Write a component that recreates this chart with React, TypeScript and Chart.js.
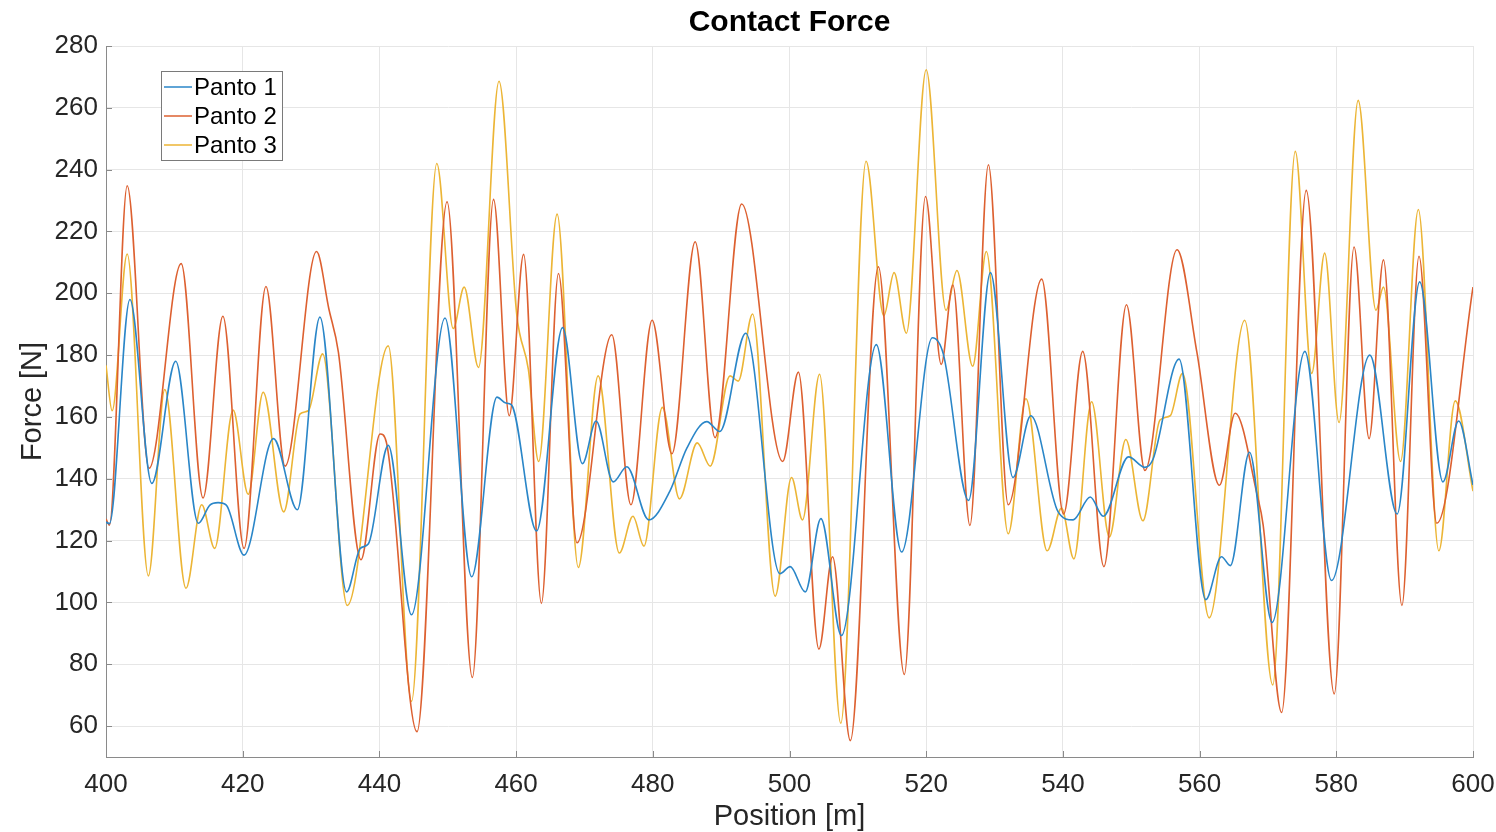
import React, { useEffect, useRef } from "react";
import { Chart, registerables } from "chart.js";

Chart.register(...registerables);

const X_TICKS = [400, 420, 440, 460, 480, 500, 520, 540, 560, 580, 600];
const Y_TICKS = [60, 80, 100, 120, 140, 160, 180, 200, 220, 240, 260, 280];

const CHART_TITLE = "Contact Force";
const SERIES_NAMES = ["Panto 1", "Panto 2", "Panto 3"];
const SERIES_COLORS = ["#2a86c8", "#dd6030", "#ecb535"];

// Panto 1 (position [m], force [N])
const P1_X = [400, 400.5, 403.5, 406.7, 410.2, 413.5, 415.2, 416.4, 417.6, 420.2, 424.5, 428.0, 431.3, 435.2, 437.2, 438.4, 441.3, 444.7, 449.6, 453.5, 457.2, 458.5, 459.3, 463.0, 466.8, 469.7, 471.7, 474.2, 476.2, 479.4, 482.5, 485.0, 487.9, 489.8, 493.6, 498.6, 500.1, 502.3, 504.6, 507.6, 512.7, 516.4, 520.9, 522.5, 526.2, 529.4, 532.7, 535.3, 539.3, 541.5, 544.0, 545.9, 549.6, 552.0, 553.2, 557.0, 560.9, 563.2, 564.5, 567.3, 570.6, 575.4, 579.3, 584.9, 588.9, 592.2, 595.6, 597.9, 600];
const P1_Y = [126, 125.5, 198, 138.5, 178, 125.6, 131.5, 132.3, 131.5, 115.3, 153, 130, 192.3, 103.4, 117.5, 119, 150.8, 96, 192, 108.3, 166.4, 164.5, 164, 123.1, 188.9, 144.9, 158.7, 139, 143.9, 126.7, 136, 150, 158.5, 155.3, 187.1, 109.3, 111.6, 103.4, 127.1, 89.3, 183.4, 116.3, 185.6, 180.4, 133, 206.7, 140.4, 160.4, 129.3, 126.7, 134.1, 127.9, 147.1, 143.7, 146.4, 178.7, 100.9, 114.8, 111.9, 148.6, 93.5, 181.2, 107.1, 180, 128.6, 203.7, 139, 158.7, 138];

// Panto 2
const P2_X = [400, 400.5, 403.1, 406.3, 411.0, 414.2, 417.1, 420.2, 423.4, 426.2, 430.8, 432.6, 434.0, 437.3, 440.1, 441.0, 445.5, 449.9, 453.6, 456.7, 459.0, 461.1, 463.7, 466.2, 468.9, 474.0, 476.8, 479.9, 482.8, 486.2, 489.1, 493.0, 499.0, 501.3, 504.3, 506.3, 508.9, 513.0, 516.8, 519.9, 522.2, 523.9, 526.4, 529.1, 532.0, 536.9, 540.1, 542.9, 546.0, 549.3, 552.0, 556.7, 559.6, 562.9, 565.2, 568.4, 569.3, 572.0, 575.6, 579.7, 582.6, 584.8, 586.9, 589.6, 592.1, 594.7, 600];
const P2_Y = [127, 125, 234.8, 143.4, 209.6, 133.8, 192.6, 117.5, 202.2, 144.1, 213.5, 195, 181, 113.8, 154.5, 152, 58.2, 229.6, 75.7, 230.4, 160.4, 212.6, 99.7, 206.4, 119.3, 186.6, 131.6, 191.3, 148.1, 216.7, 153.3, 228.9, 145.6, 174.5, 84.9, 114.8, 55.3, 208.6, 76.7, 231.3, 177, 202.7, 124.9, 241.6, 131.6, 204.6, 128.6, 181.2, 111.6, 196.3, 142.7, 214.1, 181, 137.9, 161.2, 135, 125, 64.4, 233.3, 70.4, 215, 153, 210.8, 99, 212, 125.6, 202];

// Panto 3
const P3_X = [400, 400.9, 403.1, 406.2, 408.6, 411.7, 414.0, 415.9, 418.6, 420.8, 423.0, 426.0, 428.4, 429.6, 431.7, 435.3, 441.3, 444.7, 448.4, 450.8, 452.4, 454.5, 457.5, 460.1, 461.8, 463.3, 466.0, 469.1, 472.0, 475.1, 477.1, 478.7, 481.4, 483.9, 486.5, 488.4, 491.3, 492.5, 494.6, 497.9, 500.3, 501.9, 504.4, 507.5, 511.2, 513.8, 515.3, 517.1, 520.0, 522.9, 524.5, 526.8, 528.8, 532.0, 534.6, 537.7, 539.8, 541.6, 544.2, 546.8, 549.2, 551.7, 554.2, 555.7, 557.5, 561.4, 566.6, 570.7, 574.0, 576.4, 578.3, 580.4, 583.2, 585.8, 586.9, 589.4, 592.0, 595.0, 597.4, 600];
const P3_Y = [176.7, 162, 212.7, 108.6, 168.9, 104.6, 131.6, 117.5, 162.2, 135, 168, 129.3, 161, 162, 180.4, 99, 183, 68, 242, 188.6, 202, 176, 268.6, 193, 175.3, 145.6, 225.6, 111.3, 173.3, 116, 127.9, 118.2, 163.1, 133.5, 151.6, 144.1, 173.3, 171.6, 193.3, 102, 140.4, 126.7, 173.8, 60.9, 242.7, 192.7, 206.7, 187.1, 272.3, 194.5, 207.4, 176.4, 213.5, 122.2, 165.9, 116.7, 130.5, 114.1, 164.9, 121.2, 152.7, 126.4, 159, 160.4, 174.1, 95, 191.3, 73.3, 245.9, 174.1, 213, 158.2, 262.4, 194.5, 202, 145.6, 227.1, 116.7, 165.2, 136];

const FONT = "'Liberation Sans', Arial, Helvetica, sans-serif";
const AXIS_COLOR = "#8a8a8a";
const TEXT_COLOR = "#262626";
const GRID_COLOR = "#e6e6e6";

const toPoints = (xs: number[], ys: number[]) => xs.map((x, i) => ({ x, y: ys[i] }));

const inwardTicks = {
  id: "inwardTicks",
  afterDraw(chart: any) {
    const { ctx, chartArea, scales } = chart;
    ctx.save();
    ctx.strokeStyle = AXIS_COLOR;
    ctx.lineWidth = 1;
    ctx.beginPath();
    Y_TICKS.forEach((v) => {
      const y = Math.round(scales.y.getPixelForValue(v)) + 0.5;
      ctx.moveTo(chartArea.left, y);
      ctx.lineTo(chartArea.left + 6, y);
    });
    X_TICKS.forEach((v) => {
      const x = Math.round(scales.x.getPixelForValue(v)) + 0.5;
      ctx.moveTo(x, chartArea.bottom);
      ctx.lineTo(x, chartArea.bottom - 6);
    });
    ctx.stroke();
    ctx.restore();
  },
};

const plotTitle = {
  id: "plotTitle",
  afterDraw(chart: any) {
    const { ctx, chartArea } = chart;
    ctx.save();
    ctx.font = `bold 30px ${FONT}`;
    ctx.fillStyle = "#000000";
    ctx.textAlign = "center";
    ctx.textBaseline = "middle";
    ctx.fillText(CHART_TITLE, (chartArea.left + chartArea.right) / 2, 23);
    ctx.restore();
  },
};

const boxLegend = {
  id: "boxLegend",
  afterDraw(chart: any) {
    const { ctx, chartArea } = chart;
    const left = chartArea.left + 55;
    const top = chartArea.top + 25;
    const w = 121;
    const h = 89;
    ctx.save();
    ctx.fillStyle = "#ffffff";
    ctx.fillRect(left, top, w, h);
    ctx.strokeStyle = "#7a7a7a";
    ctx.lineWidth = 1;
    ctx.strokeRect(left + 0.5, top + 0.5, w, h);
    ctx.font = `24px ${FONT}`;
    ctx.textBaseline = "middle";
    ctx.textAlign = "left";
    chart.data.datasets.forEach((ds: any, i: number) => {
      const y = top + 16 + i * 29;
      ctx.strokeStyle = ds.borderColor;
      ctx.lineWidth = 1.5;
      ctx.beginPath();
      ctx.moveTo(left + 3, y);
      ctx.lineTo(left + 31, y);
      ctx.stroke();
      ctx.fillStyle = "#000000";
      ctx.fillText(ds.label, left + 33, y + 1);
    });
    ctx.restore();
  },
};

export default function App() {
  const canvasRef = useRef<HTMLCanvasElement | null>(null);

  useEffect(() => {
    if (!canvasRef.current) return;
    const chart = new Chart(canvasRef.current, {
      type: "line",
      data: {
        datasets: [
          { label: SERIES_NAMES[0], data: toPoints(P1_X, P1_Y), borderColor: SERIES_COLORS[0] },
          { label: SERIES_NAMES[1], data: toPoints(P2_X, P2_Y), borderColor: SERIES_COLORS[1] },
          { label: SERIES_NAMES[2], data: toPoints(P3_X, P3_Y), borderColor: SERIES_COLORS[2] },
        ].map((d) => ({
          ...d,
          borderWidth: 1.6,
          pointRadius: 0,
          fill: false,
          cubicInterpolationMode: "monotone" as const,
        })),
      },
      options: {
        animation: false,
        responsive: false,
        devicePixelRatio: 1,
        layout: { autoPadding: false, padding: { left: 0, right: 23, top: 46, bottom: 0 } },
        plugins: {
          legend: { display: false },
          tooltip: { enabled: false },
          title: { display: false },
        },
        scales: {
          x: {
            type: "linear",
            min: 400,
            max: 600,
            afterBuildTicks: (scale: any) => {
              scale.ticks = X_TICKS.map((v) => ({ value: v }));
            },
            afterFit: (scale: any) => {
              scale.height = 75;
              scale.paddingLeft = 0;
              scale.paddingRight = 0;
            },
            ticks: {
              color: TEXT_COLOR,
              font: { family: FONT, size: 26 },
              padding: 12,
              maxRotation: 0,
              autoSkip: false,
            },
            grid: { color: GRID_COLOR, drawTicks: false, lineWidth: 1 },
            border: { display: true, color: AXIS_COLOR, width: 1 },
            title: {
              display: true,
              text: "Position [m]",
              color: TEXT_COLOR,
              font: { family: FONT, size: 29, lineHeight: 1 },
              padding: { top: 0, bottom: 1 },
            },
          },
          y: {
            type: "linear",
            min: 50,
            max: 280,
            afterBuildTicks: (scale: any) => {
              scale.ticks = Y_TICKS.map((v) => ({ value: v }));
            },
            afterFit: (scale: any) => {
              scale.width = 106;
              scale.paddingTop = 0;
              scale.paddingBottom = 0;
            },
            ticks: {
              color: TEXT_COLOR,
              font: { family: FONT, size: 26 },
              padding: 8,
              autoSkip: false,
            },
            grid: { color: GRID_COLOR, drawTicks: false, lineWidth: 1 },
            border: { display: true, color: AXIS_COLOR, width: 1 },
            title: {
              display: true,
              text: "Force [N]",
              color: TEXT_COLOR,
              font: { family: FONT, size: 29, lineHeight: 1 },
              padding: { top: 18, bottom: 0 },
            },
          },
        },
      },
      plugins: [inwardTicks, plotTitle, boxLegend],
    });
    return () => chart.destroy();
  }, []);

  return (
    <div style={{ position: "fixed", left: 0, top: 0, width: 1496, height: 832, background: "#ffffff" }}>
      <canvas ref={canvasRef} width={1496} height={832} style={{ display: "block" }} />
    </div>
  );
}
